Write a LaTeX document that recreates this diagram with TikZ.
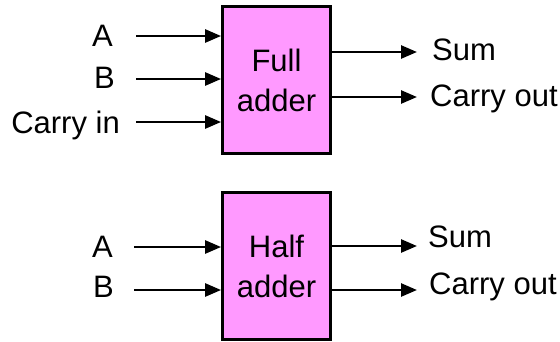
\documentclass[tikz,border=0pt]{standalone}
\usepackage{fontspec}
\setmainfont{Liberation Sans}
\usetikzlibrary{arrows.meta}
\definecolor{adderpink}{RGB}{255,153,255}
\tikzset{
  adder/.style={draw, line width=2.8pt, fill=adderpink, align=center, inner sep=0pt,
                minimum width=108pt, minimum height=146.5pt,
                font=\fontsize{31}{40}\selectfont},
  sig/.style={font=\fontsize{31}{37}\selectfont, inner sep=0pt},
  flow/.style={-{Triangle[length=16pt, width=13pt]}, line width=2.6pt},
}

\begin{document}
\begin{tikzpicture}[x=1pt, y=-1pt]
  \useasboundingbox (0,0) rectangle (560,341);

  % ---------- full adder ----------
  \node[adder] (full) at (276.5, 80) {Full\\adder};
  \node[sig, anchor=base east] (fullA) at (113, 46) {A};
  \node[sig, anchor=base east] (fullB) at (115, 88) {B};
  \node[sig, anchor=base east] (fullCin) at (120, 133) {Carry in};
  \node[sig, anchor=base west] (fullSum) at (432, 60) {Sum};
  \node[sig, anchor=base west] (fullCout) at (430, 106) {Carry out};

  \coordinate (fullAin) at (136, 36);
  \coordinate (fullBin) at (136, 79);
  \coordinate (fullCinin) at (136, 122);
  \coordinate (fullSumout) at (417, 52);
  \coordinate (fullCoutout) at (417, 97);

  \draw[flow] (fullAin) -- (fullAin -| full.west);
  \draw[flow] (fullBin) -- (fullBin -| full.west);
  \draw[flow] (fullCinin) -- (fullCinin -| full.west);
  \draw[flow] (fullSumout -| full.east) -- (fullSumout);
  \draw[flow] (fullCoutout -| full.east) -- (fullCoutout);

  % ---------- half adder ----------
  \node[adder] (half) at (276.5, 266) {Half\\adder};
  \node[sig, anchor=base east] (halfA) at (113, 257) {A};
  \node[sig, anchor=base east] (halfB) at (114, 297) {B};
  \node[sig, anchor=base west] (halfSum) at (428, 247) {Sum};
  \node[sig, anchor=base west] (halfCout) at (429, 294) {Carry out};

  \coordinate (halfAin) at (134, 247);
  \coordinate (halfBin) at (134, 290);
  \coordinate (halfSumout) at (417, 246);
  \coordinate (halfCoutout) at (417, 290);

  \draw[flow] (halfAin) -- (halfAin -| half.west);
  \draw[flow] (halfBin) -- (halfBin -| half.west);
  \draw[flow] (halfSumout -| half.east) -- (halfSumout);
  \draw[flow] (halfCoutout -| half.east) -- (halfCoutout);

\end{tikzpicture}
\end{document}
